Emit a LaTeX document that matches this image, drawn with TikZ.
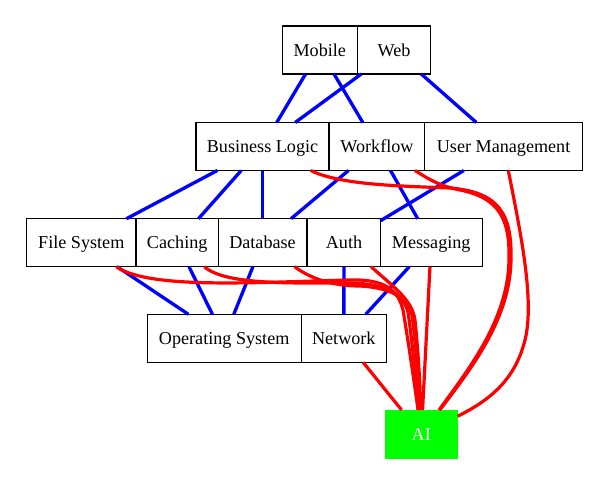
\documentclass[tikz,border=0pt]{standalone}
\usepackage{fontspec}
\setmainfont{Liberation Serif}
\begin{document}
\begin{tikzpicture}[x=0.75pt,y=-0.75pt,
  box/.style={draw=black,line width=0.8pt,fill=white,minimum height=48*0.75pt,inner sep=0pt,outer sep=0pt,text height=12pt,text depth=3pt,font=\fontsize{13.6}{16}\selectfont},
  aibox/.style={fill=green,draw=none,minimum width=72.7*0.75pt,minimum height=49*0.75pt,inner sep=0pt,outer sep=0pt,text height=12pt,text depth=3pt,text=white,font=\fontsize{13.6}{16}\selectfont},
  bl/.style={draw=blue,line width=2.5pt},
  rd/.style={draw=red,line width=2.4pt}]
\useasboundingbox (0,0) rectangle (609,485);
% nodes
\node[box,minimum width=75*0.75pt] (mob) at (319.8,50) {Mobile};
\node[box,minimum width=73.4*0.75pt] (web) at (394,50) {Web};
\node[box,minimum width=133*0.75pt] (blog) at (262.5,146.5) {Business Logic};
\node[box,minimum width=96*0.75pt] (wf) at (377,146.5) {Workflow};
\node[box,minimum width=157.3*0.75pt] (um) at (503.6,146.5) {User Management};
\node[box,minimum width=109.3*0.75pt] (fs) at (81.3,242.7) {File System};
\node[box,minimum width=82.3*0.75pt] (cach) at (177.2,242.7) {Caching};
\node[box,minimum width=88.4*0.75pt] (db) at (262.5,242.7) {Database};
\node[box,minimum width=73*0.75pt] (auth) at (344,242.7) {Auth};
\node[box,minimum width=102.3*0.75pt] (msg) at (431.2,242.7) {Messaging};
\node[box,minimum width=153.7*0.75pt] (os) at (224.2,338.3) {Operating System};
\node[box,minimum width=85*0.75pt] (net) at (343.8,338.3) {Network};
\node[aibox] (ai) at (421.3,434.5) {AI};
% blue edges
\draw[bl] (mob) -- (blog);
\draw[bl] (mob) -- (wf);
\draw[bl] (web) -- (blog);
\draw[bl] (web) -- (um);
\draw[bl] (blog) -- (fs);
\draw[bl] (blog) -- (cach);
\draw[bl] (blog) -- (db);
\draw[bl] (wf) -- (db);
\draw[bl] (wf) -- (msg);
\draw[bl] (um) -- (auth);
\draw[bl] (fs) -- (os);
\draw[bl] (cach) -- (os);
\draw[bl] (db) -- (os);
\draw[bl] (auth) -- (net);
\draw[bl] (msg) -- (net);
% red edges
\draw[rd] (net) -- (ai);
\draw[rd] (msg) -- (ai);
\draw[rd] (auth) .. controls (395,288) and (412,300) .. (415,320) .. controls (418,350) and (420,380) .. (ai);
\draw[rd] (fs) .. controls (150,290) and (260,282) .. (350,280) .. controls (385,279) and (398,290) .. (403,310) .. controls (408,340) and (414,380) .. (ai);
\draw[rd] (cach) .. controls (225,285) and (290,283) .. (350,283) .. controls (390,284) and (403,295) .. (408,312) .. controls (412,340) and (416,380) .. (ai);
\draw[rd] (db) .. controls (315,282) and (340,286) .. (360,286) .. controls (395,288) and (408,300) .. (412,315) .. controls (416,345) and (418,380) .. (ai);
\draw[rd] (blog) .. controls (340,185) and (400,186) .. (450,188) .. controls (500,192) and (512,215) .. (511,260) .. controls (510,320) and (470,370) .. (ai);
\draw[rd] (wf) .. controls (430,180) and (440,186) .. (460,190) .. controls (500,198) and (510,220) .. (509,260) .. controls (508,320) and (468,370) .. (ai);
\draw[rd] (um) .. controls (520,230) and (535,300) .. (525,340) .. controls (515,380) and (490,400) .. (ai);
\end{tikzpicture}
\end{document}
